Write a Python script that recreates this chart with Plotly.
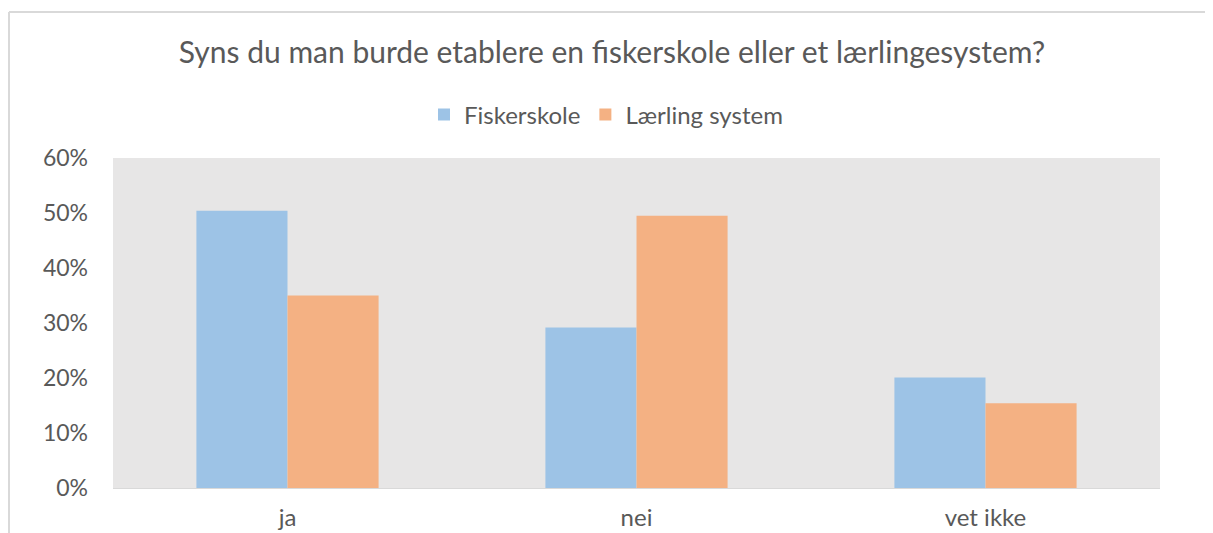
import plotly.graph_objects as go

categories = ["ja", "nei", "vet ikke"]
fiskerskole = [0.504, 0.292, 0.201]
laerling = [0.350, 0.495, 0.154]
series_names = ["Fiskerskole", "Lærling system"]
y_ticks = [0, 0.1, 0.2, 0.3, 0.4, 0.5, 0.6]
y_tick_labels = ["0%", "10%", "20%", "30%", "40%", "50%", "60%"]

# page body has an 8px margin; figure is placed at (8, 8)
OFF = 8
W, H = 1213 - OFF, 533 - OFF
L = 113 - OFF
T = 158 - OFF
R = W - (1160 - OFF)
B = H - (488 - OFF)
pw = W - L - R
ph = H - T - B

FONT = "Lato"
GREY = "#595959"

fig = go.Figure()
fig.add_trace(go.Bar(x=categories, y=fiskerskole, name=series_names[0],
                     marker=dict(color="#9DC3E6", line=dict(width=0))))
fig.add_trace(go.Bar(x=categories, y=laerling, name=series_names[1],
                     marker=dict(color="#F4B183", line=dict(width=0))))

# outer chart frame: only the left and top edges are visible
fx0 = (1 - L) / pw
fx1 = (W - L) / pw
fy0 = -B / ph
fy1 = (H - B - (12 - OFF)) / ph
frame = dict(color="#D9D9D9", width=2)
fig.add_shape(type="line", xref="paper", yref="paper",
              x0=fx0, x1=fx0, y0=fy0, y1=fy1, line=frame, layer="below")
fig.add_shape(type="line", xref="paper", yref="paper",
              x0=fx0, x1=fx1, y0=fy1, y1=fy1, line=frame, layer="below")

fig.update_layout(
    width=W, height=H,
    margin=dict(l=L, r=R, t=T, b=B, autoexpand=False),
    paper_bgcolor="white",
    plot_bgcolor="#E7E6E6",
    barmode="group",
    bargap=0.478,
    bargroupgap=0,
    font=dict(family=FONT, color=GREY),
    title=dict(text="Syns du man burde etablere en fiskerskole eller et lærlingesystem?",
               x=(612 - OFF) / W, xref="container", xanchor="center",
               y=1 - (52 - OFF) / H, yref="container", yanchor="middle",
               font=dict(family=FONT, size=30, color=GREY)),
    legend=dict(orientation="h", x=(606 - OFF) / W, xref="container", xanchor="center",
                y=(488 - 115) / ph, yanchor="middle",
                font=dict(family=FONT, size=24, color=GREY),
                bgcolor="rgba(0,0,0,0)", itemwidth=30, traceorder="normal"),
    xaxis=dict(showgrid=False, showline=True, linecolor="#D9D9D9", linewidth=1,
               ticks="", tickfont=dict(family=FONT, size=24, color=GREY),
               ticklabelstandoff=8, zeroline=False),
    yaxis=dict(range=[0, 0.6], tickvals=y_ticks, ticktext=y_tick_labels,
               showgrid=False, zeroline=False, showline=False, ticks="",
               tickfont=dict(family=FONT, size=23, color=GREY),
               ticklabelstandoff=24),
)

fig.write_html("out.html")
